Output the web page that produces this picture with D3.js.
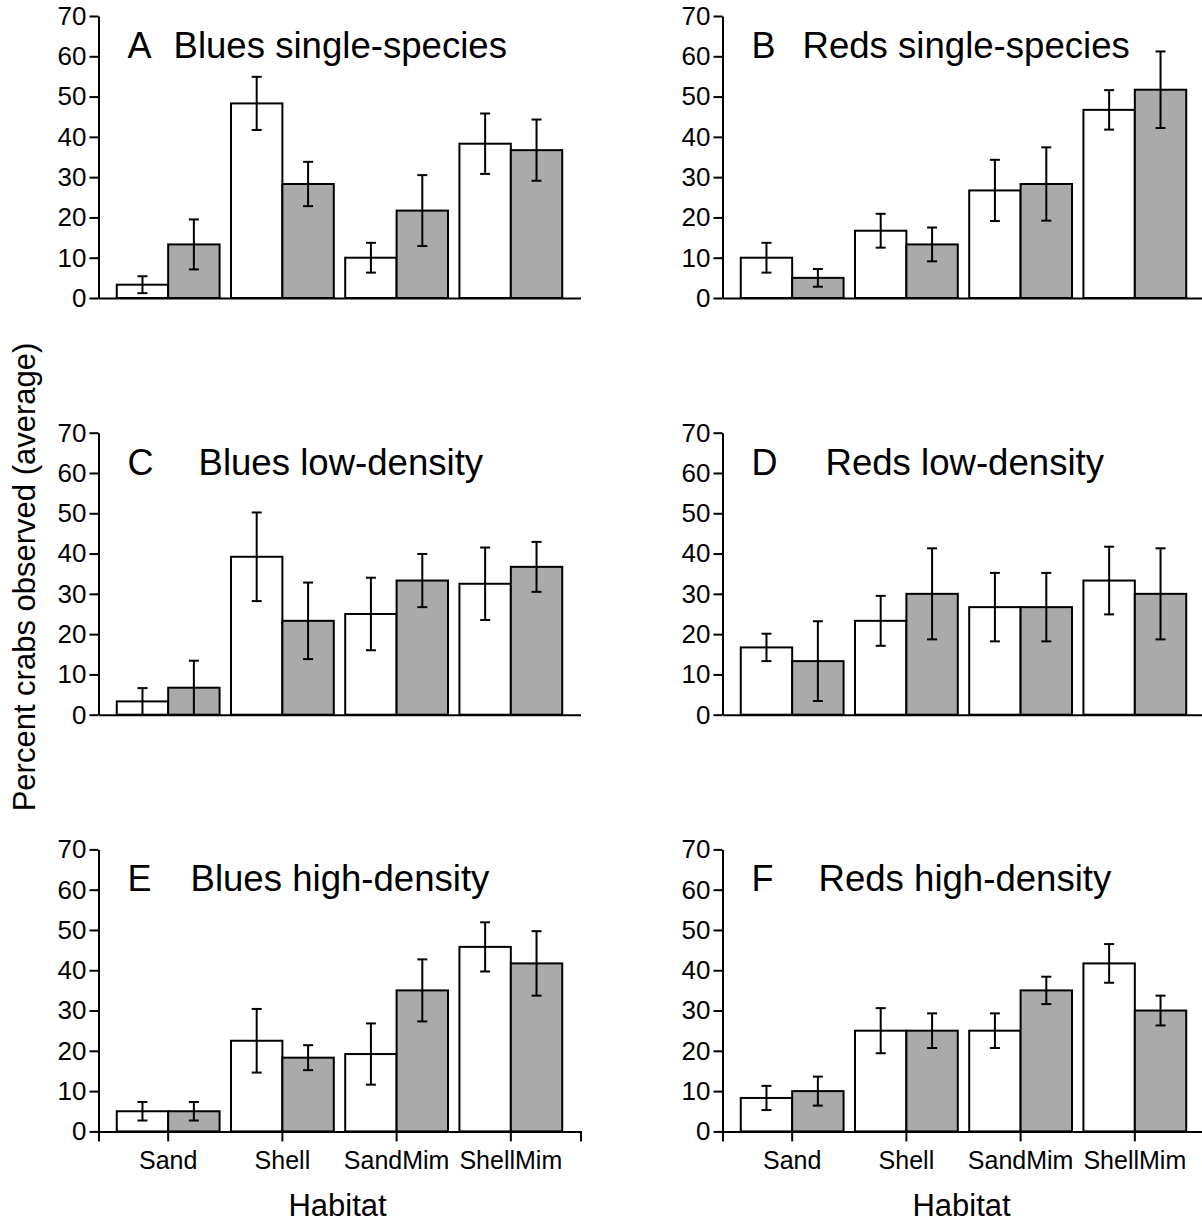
<!DOCTYPE html>
<html>
<head>
<meta charset="utf-8">
<script src="https://cdn.jsdelivr.net/npm/d3@7"></script>
<style>
    body { margin: 0; background: #fff; }
    svg { display: block; font-family: "Liberation Sans", Arial, Helvetica, sans-serif; }
    .axis path, .axis line { stroke: #000; stroke-width: 2; }
    .axis text { font-size: 26px; fill: #000; }
    .x-axis text { font-size: 25px; }
</style>
</head>
<body>
<svg id="chart" width="1202" height="1224"></svg>
<script>
const habitats = ["Sand", "Shell", "SandMim", "ShellMim"];
const yTicks = [0, 10, 20, 30, 40, 50, 60, 70];

const panelLetters = ["A", "B", "C", "D", "E", "F"];
const panelTitles = [
    "Blues single-species", "Reds single-species",
    "Blues low-density", "Reds low-density",
    "Blues high-density", "Reds high-density"
];

// open (white) bars, per panel, in habitat order
const openMeans = [
    [3.3, 48.3, 10.0, 38.3],
    [10.0, 16.7, 26.7, 46.7],
    [3.3, 39.2, 25.0, 32.5],
    [16.7, 23.3, 26.7, 33.3],
    [5.0, 22.5, 19.2, 45.8],
    [8.3, 25.0, 25.0, 41.7]
];
const openErrors = [
    [2.1, 6.6, 3.7, 7.5],
    [3.7, 4.2, 7.6, 4.9],
    [3.3, 11.0, 9.0, 9.0],
    [3.4, 6.2, 8.5, 8.4],
    [2.3, 7.9, 7.6, 6.1],
    [3.0, 5.6, 4.3, 4.8]
];

// filled (grey) bars
const filledMeans = [
    [13.3, 28.3, 21.7, 36.7],
    [5.0, 13.3, 28.3, 51.7],
    [6.7, 23.3, 33.3, 36.7],
    [13.3, 30.0, 26.7, 30.0],
    [5.0, 18.3, 35.0, 41.7],
    [10.0, 25.0, 35.0, 30.0]
];
const filledErrors = [
    [6.2, 5.5, 8.8, 7.6],
    [2.2, 4.2, 9.1, 9.5],
    [6.7, 9.5, 6.6, 6.2],
    [9.9, 11.3, 8.5, 11.3],
    [2.3, 3.1, 7.7, 8.0],
    [3.6, 4.3, 3.4, 3.7]
];

// layout
const colLeft = [98.5, 722.5];
const rowZero = [298, 714.7, 1131.4];
const axisWidth = 482;
const axisHeight = 282;
const titleGap = [75, 80, 100, 103, 92, 96];
const capWidth = 10;

const svg = d3.select("#chart");

panelLetters.forEach((letter, i) => {
    const col = i % 2;
    const row = Math.floor(i / 2);
    const x0 = colLeft[col];
    const zero = rowZero[row];

    const scaleY = d3.scaleLinear()
        .domain([0, 70])
        .range([zero, zero - axisHeight]);

    const scaleX = d3.scaleBand()
        .domain(habitats)
        .range([x0, x0 + axisWidth])
        .paddingInner(0.1)
        .paddingOuter(0.16);

    const scaleSub = d3.scaleBand()
        .domain(["open", "filled"])
        .range([0, scaleX.bandwidth()]);

    const rows = habitats.map((h, j) => ({
        habitat: h,
        values: [
            {key: "open", mean: openMeans[i][j], err: openErrors[i][j]},
            {key: "filled", mean: filledMeans[i][j], err: filledErrors[i][j]}
        ]
    }));

    const g = svg.append("g").attr("class", "panel");

    const groups = g.selectAll(".group")
        .data(rows)
        .join("g")
        .attr("class", "group")
        .attr("transform", d => `translate(${scaleX(d.habitat)},0)`);

    groups.selectAll("rect")
        .data(d => d.values)
        .join("rect")
        .attr("x", d => scaleSub(d.key))
        .attr("y", d => scaleY(d.mean))
        .attr("width", scaleSub.bandwidth())
        .attr("height", d => scaleY(0) - scaleY(d.mean))
        .attr("fill", d => d.key === "open" ? "#ffffff" : "#aaaaaa")
        .attr("stroke", "#000")
        .attr("stroke-width", 2);

    const bars = groups.selectAll(".err")
        .data(d => d.values)
        .join("g")
        .attr("class", "err")
        .attr("stroke", "#000")
        .attr("stroke-width", 2);

    const cx = d => scaleSub(d.key) + scaleSub.bandwidth() / 2;
    const lo = d => scaleY(Math.max(0, d.mean - d.err));
    const hi = d => scaleY(d.mean + d.err);

    bars.append("line")
        .attr("x1", cx).attr("x2", cx)
        .attr("y1", lo).attr("y2", hi);
    bars.append("line")
        .attr("x1", d => cx(d) - capWidth / 2).attr("x2", d => cx(d) + capWidth / 2)
        .attr("y1", hi).attr("y2", hi);
    bars.filter(d => d.mean - d.err > 0.5)
        .append("line")
        .attr("x1", d => cx(d) - capWidth / 2).attr("x2", d => cx(d) + capWidth / 2)
        .attr("y1", lo).attr("y2", lo);

    // axes
    const yAxis = d3.axisLeft(scaleY)
        .tickValues(yTicks)
        .tickSize(9)
        .tickSizeOuter(0)
        .tickPadding(3);

    g.append("g")
        .attr("class", "axis y-axis")
        .attr("transform", `translate(${x0},0)`)
        .call(yAxis);

    const xAxis = d3.axisBottom(scaleX).tickSizeOuter(0);
    if (row === 2) {
        xAxis.tickSize(10).tickPadding(10);
    } else {
        xAxis.tickValues([]);
    }

    g.append("g")
        .attr("class", "axis x-axis")
        .attr("transform", `translate(0,${zero})`)
        .call(xAxis);

    g.selectAll(".axis").attr("font-family", null).attr("font-size", null);

    // panel title
    const titleY = scaleY(70) + 42;
    g.append("text")
        .attr("x", x0 + 29)
        .attr("y", titleY)
        .attr("font-size", 36)
        .text(letter);
    g.append("text")
        .attr("x", x0 + titleGap[i])
        .attr("y", titleY)
        .attr("font-size", 36.6)
        .text(panelTitles[i]);

    if (row === 2) {
        g.append("text")
            .attr("x", x0 + axisWidth / 2 - 2)
            .attr("y", 1216)
            .attr("text-anchor", "middle")
            .attr("font-size", 31)
            .text("Habitat");
    }
});

svg.append("text")
    .attr("transform", "translate(35,577) rotate(-90)")
    .attr("text-anchor", "middle")
    .attr("font-size", 31)
    .text("Percent crabs observed (average)");
</script>
</body>
</html>
